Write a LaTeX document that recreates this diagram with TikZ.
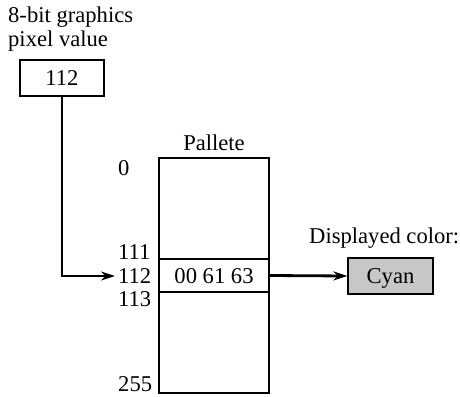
\documentclass[tikz,border=0pt]{standalone}
\usepackage{fontspec}
\setmainfont{Liberation Serif}
\usetikzlibrary{arrows.meta}
\begin{document}
\begin{tikzpicture}[x=1pt,y=-1pt,
  every node/.style={font=\fontsize{22.6}{23.5}\selectfont, inner sep=0pt},
  box/.style={draw, line width=1.3pt, minimum height=36pt},
  pal/.style={draw, line width=1.3pt, minimum width=110pt},
  lbl/.style={anchor=base west},
  conn/.style={line width=2.8pt, -{Stealth[length=14pt,width=9pt]}}]
\useasboundingbox (0,0) rectangle (460,396);
\node[lbl] (t1) at (8,23) {8-bit graphics};
\node[lbl] (t2) at (8,46.5) {pixel value};
\node[box, minimum width=84pt] (px) at (62,78) {};
\node[anchor=base] (pxt) at (62,85) {112};
% palette
\node[pal, minimum height=101pt] (ptop) at (214,208.5) {};
\node[pal, minimum height=33pt] (prow) at (214,275.5) {};
\node[pal, minimum height=101pt] (pbot) at (214,342.5) {};
\node[anchor=base] (ptitle) at (214,150) {Pallete};
\node[anchor=base] (rowt) at (214,283) {00 61 63};
\node[lbl] (l0) at (118,175) {0};
\node[lbl] (l111) at (118,259) {111};
\node[lbl] (l112) at (118,283) {112};
\node[lbl] (l113) at (118,306) {113};
\node[lbl] (l255) at (118,391.5) {255};
\node[lbl] (disp) at (309,243) {Displayed color:};
\node[box, minimum width=85pt, fill=black!22] (cyan) at (390.5,276) {};
\node[anchor=base] (cyant) at (390.5,283) {Cyan};
\coordinate (tip) at (115,276);
\draw[conn] (px.south) -- (px.south |- tip) -- (tip);
\draw[conn] (prow.east) -- (cyan.west);
\end{tikzpicture}
\end{document}
